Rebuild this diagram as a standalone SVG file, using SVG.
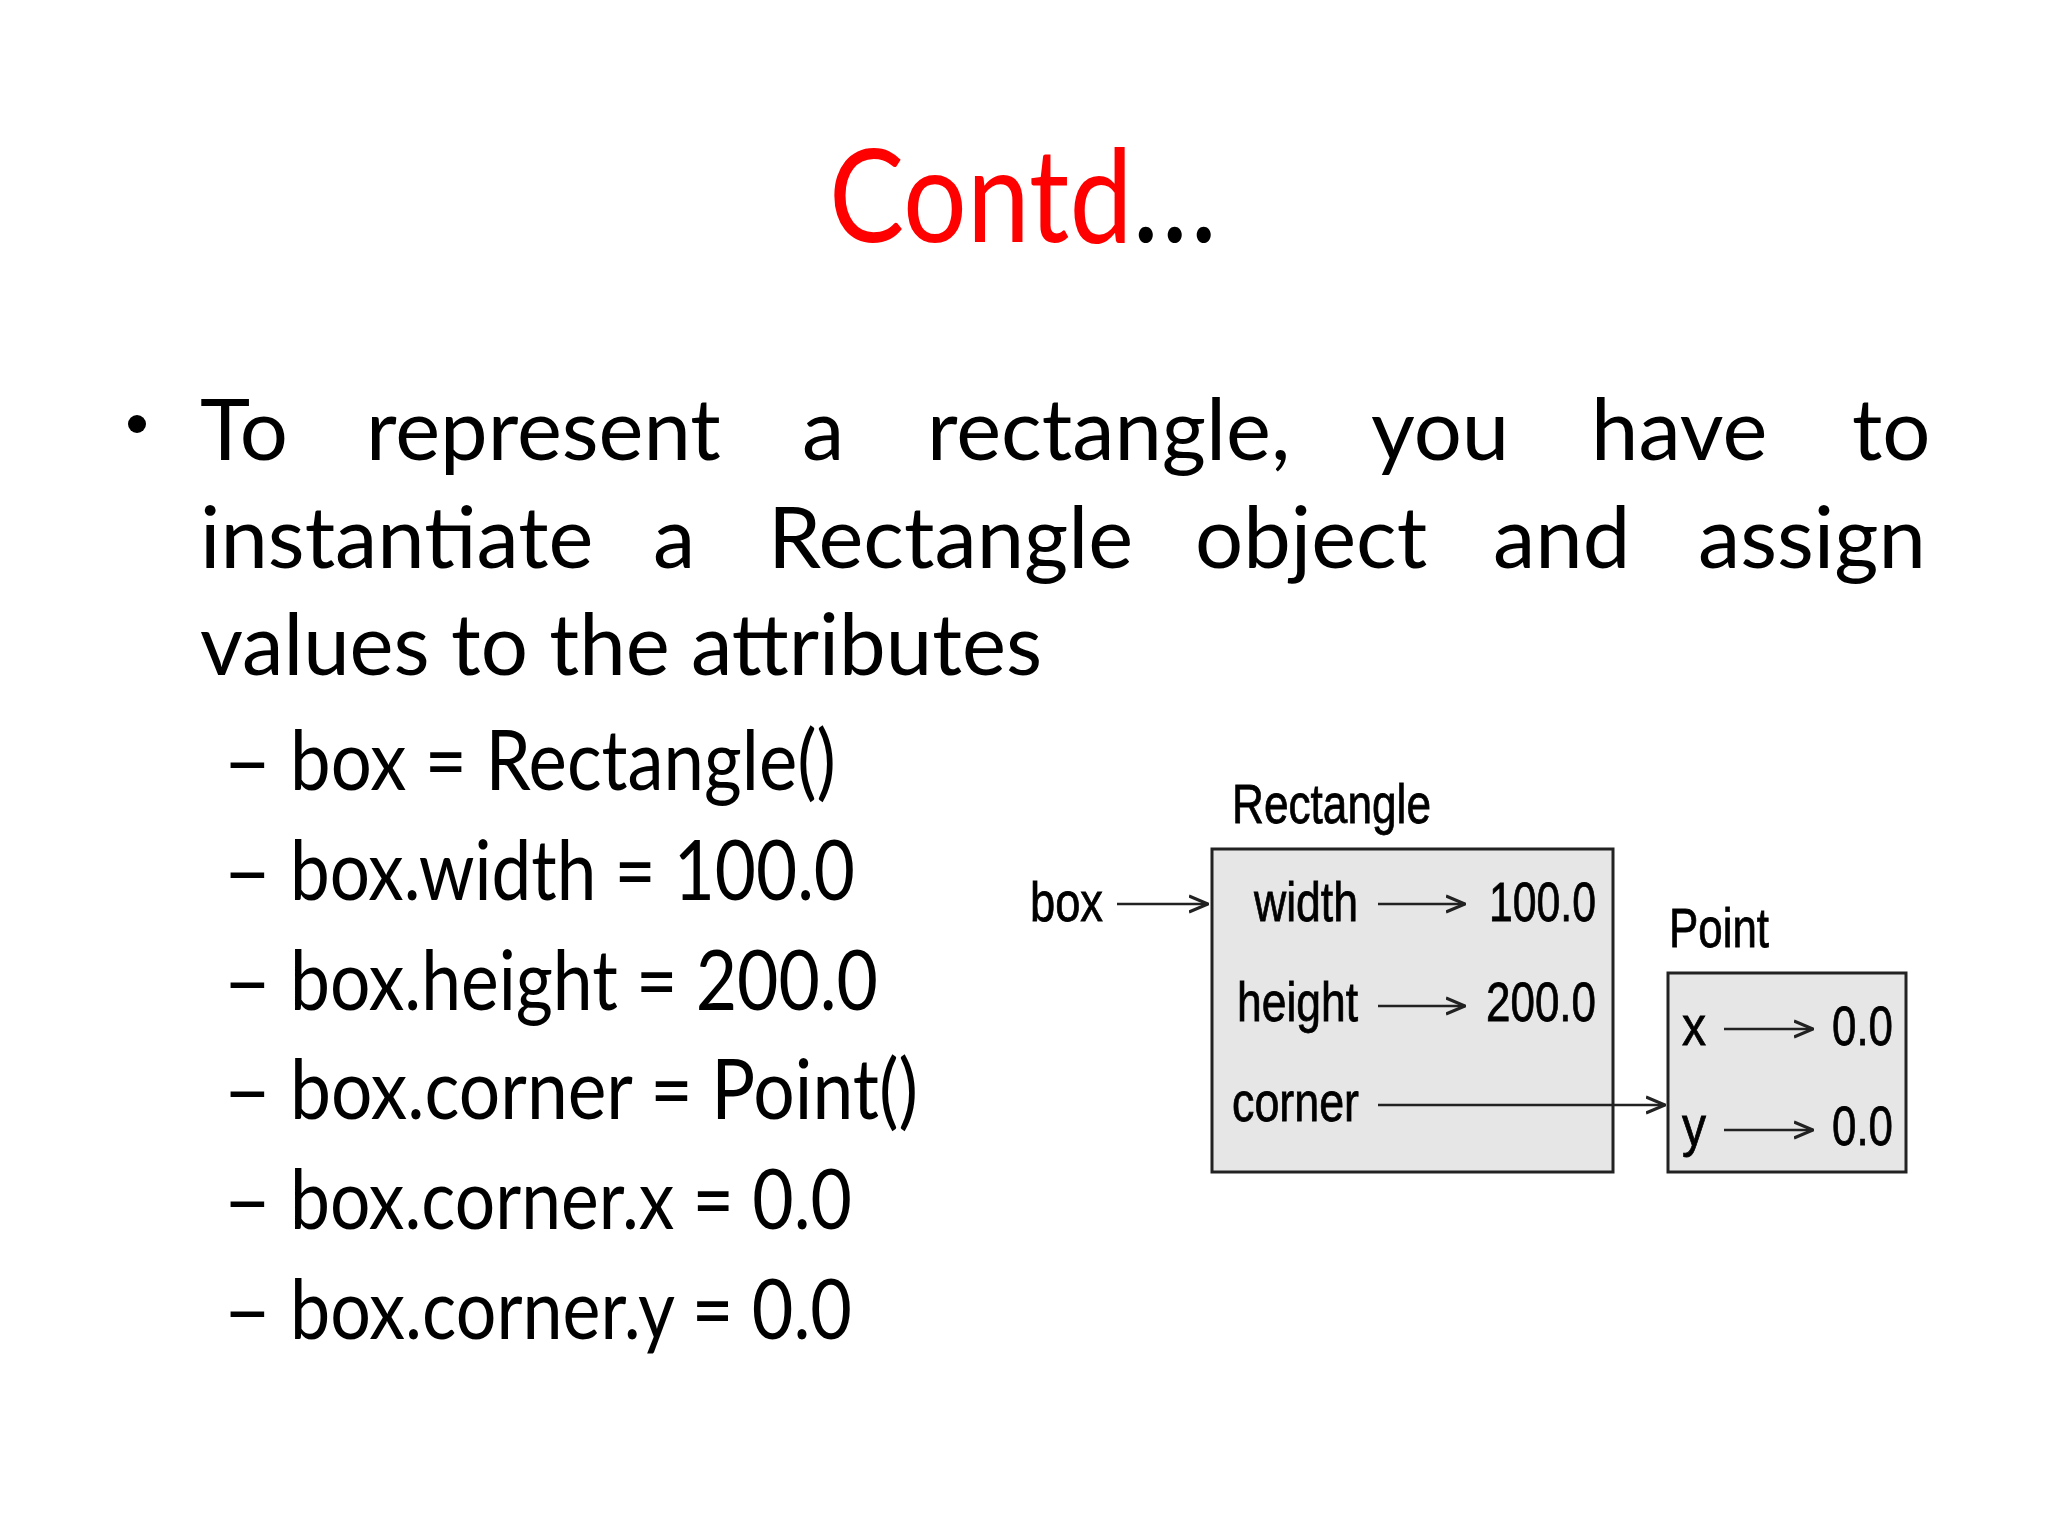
<svg xmlns="http://www.w3.org/2000/svg" width="2048" height="1536" viewBox="0 0 2048 1536">
<defs>
<style>
.b{font-family:Lato,"Open Sans",sans-serif;font-size:85px;fill:#000}
.s{font-family:Lato,"Open Sans",sans-serif;font-size:84px;fill:#000}
.d{font-family:"Liberation Sans",Arial,sans-serif;font-size:56px;fill:#000;stroke:#000;stroke-width:0.8}
.box{fill:#e6e6e6;stroke:#222;stroke-width:3}
.ln{stroke:#222;stroke-width:2.5;fill:none}
</style>
<marker id="ah" viewBox="0 0 20 20" refX="19" refY="10" markerWidth="20" markerHeight="20" markerUnits="userSpaceOnUse" orient="auto"><path d="M0,2 L19,10 L0,18" fill="none" stroke="#222" stroke-width="3"/></marker>
</defs>
<rect width="2048" height="1536" fill="#fff"/>
<g id="title">
<text x="829" y="242" font-family="Lato,'Open Sans',sans-serif" font-size="130" textLength="388" lengthAdjust="spacingAndGlyphs"><tspan fill="#ff0000">Contd</tspan><tspan fill="#000">…</tspan></text>
</g>
<g id="body">
<circle cx="137" cy="424" r="9" fill="#000"/>
<text class="b" y="460"><tspan x="200">To</tspan><tspan x="366">represent</tspan><tspan x="802">a</tspan><tspan x="927">rectangle,</tspan><tspan x="1371">you</tspan><tspan x="1591">have</tspan><tspan x="1852">to</tspan></text>
<text class="b" y="568"><tspan x="200">instantiate</tspan><tspan x="653">a</tspan><tspan x="768">Rectangle</tspan><tspan x="1195">object</tspan><tspan x="1493">and</tspan><tspan x="1698">assign</tspan></text>
<text class="b" x="200" y="675" textLength="842" lengthAdjust="spacingAndGlyphs">values to the attributes</text>
<text class="s" x="223" y="790">–</text><text class="s" x="290" y="790" textLength="546" lengthAdjust="spacingAndGlyphs">box = Rectangle()</text>
<text class="s" x="223" y="900">–</text><text class="s" x="290" y="900" textLength="565" lengthAdjust="spacingAndGlyphs">box.width = 100.0</text>
<text class="s" x="223" y="1010">–</text><text class="s" x="290" y="1010" textLength="588" lengthAdjust="spacingAndGlyphs">box.height = 200.0</text>
<text class="s" x="223" y="1119">–</text><text class="s" x="290" y="1119" textLength="628" lengthAdjust="spacingAndGlyphs">box.corner = Point()</text>
<text class="s" x="223" y="1229">–</text><text class="s" x="290" y="1229" textLength="562" lengthAdjust="spacingAndGlyphs">box.corner.x = 0.0</text>
<text class="s" x="223" y="1339">–</text><text class="s" x="290" y="1339" textLength="562" lengthAdjust="spacingAndGlyphs">box.corner.y = 0.0</text>
</g>
<g id="rectangle">
<rect class="box" x="1212" y="849" width="401" height="323"/>
<text class="d" x="1232" y="823" textLength="199" lengthAdjust="spacingAndGlyphs">Rectangle</text>
<text class="d" x="1254" y="921" textLength="104" lengthAdjust="spacingAndGlyphs">width</text>
<text class="d" x="1489" y="921" textLength="107" lengthAdjust="spacingAndGlyphs">100.0</text>
<text class="d" x="1237" y="1021" textLength="121" lengthAdjust="spacingAndGlyphs">height</text>
<text class="d" x="1486" y="1021" textLength="110" lengthAdjust="spacingAndGlyphs">200.0</text>
<text class="d" x="1232" y="1121" textLength="127" lengthAdjust="spacingAndGlyphs">corner</text>
</g>
<g id="point">
<rect class="box" x="1668" y="973" width="238" height="199"/>
<text class="d" x="1669" y="947" textLength="100" lengthAdjust="spacingAndGlyphs">Point</text>
<text class="d" x="1682" y="1045" textLength="24" lengthAdjust="spacingAndGlyphs">x</text>
<text class="d" x="1832" y="1045" textLength="61" lengthAdjust="spacingAndGlyphs">0.0</text>
<text class="d" x="1682" y="1145" textLength="24" lengthAdjust="spacingAndGlyphs">y</text>
<text class="d" x="1832" y="1145" textLength="61" lengthAdjust="spacingAndGlyphs">0.0</text>
</g>
<g id="box-var">
<text class="d" x="1030" y="921" textLength="73" lengthAdjust="spacingAndGlyphs">box</text>
</g>
<g id="connectors">
<line class="ln" x1="1117" y1="904" x2="1208" y2="904" marker-end="url(#ah)"/>
<line class="ln" x1="1378" y1="904" x2="1465" y2="904" marker-end="url(#ah)"/>
<line class="ln" x1="1378" y1="1006" x2="1465" y2="1006" marker-end="url(#ah)"/>
<line class="ln" x1="1378" y1="1105" x2="1665" y2="1105" marker-end="url(#ah)"/>
<line class="ln" x1="1724" y1="1029" x2="1813" y2="1029" marker-end="url(#ah)"/>
<line class="ln" x1="1724" y1="1130" x2="1813" y2="1130" marker-end="url(#ah)"/>
</g>
</svg>
